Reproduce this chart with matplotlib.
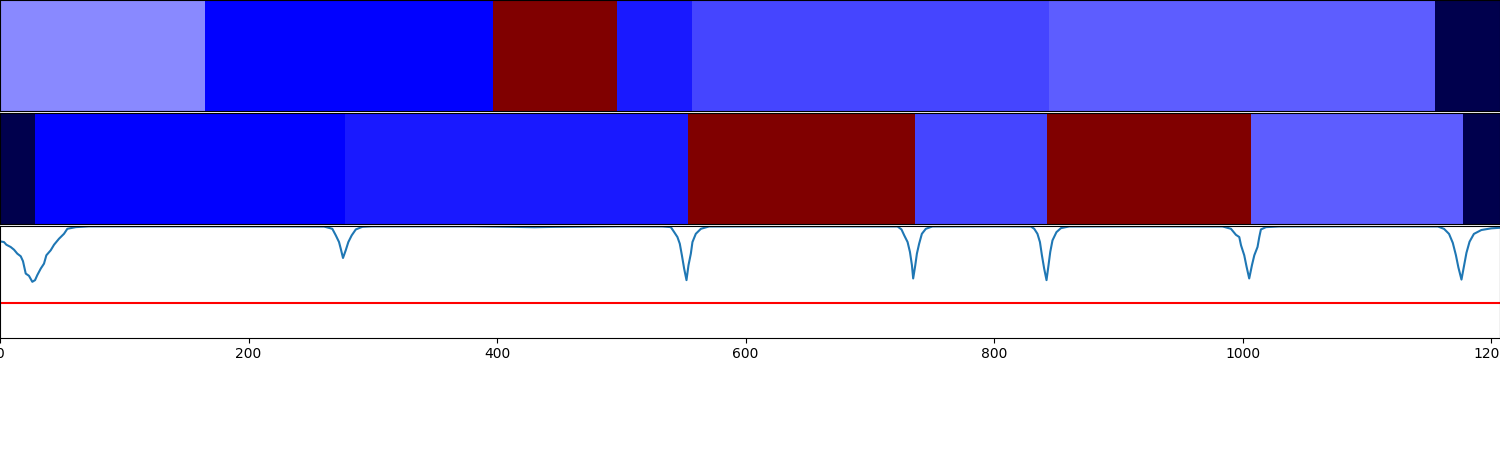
import numpy as np
import matplotlib
matplotlib.use("Agg")
import matplotlib.pyplot as plt

# segment edges (x) and colour values (seismic colormap, 0..1)
true_edges = [0, 165, 397, 496.5, 557, 844, 1155, 1207]
true_values = [0.383, 0.25, 1.0, 0.276, 0.319, 0.342, 0.0]

pred_edges = [0, 28, 278, 553.5, 736, 842.5, 1006.5, 1177.5, 1207]
pred_values = [0.0, 0.25, 0.276, 1.0, 0.319, 1.0, 0.342, 0.0]

# score profile, points
score_x = [0, 3.2, 5.1, 8.6, 11.3, 13.9, 16.7, 18.5, 20.7, 23.3, 26, 28.2, 30,
           32.8, 35.4, 37.3, 40.8, 43.5, 47.5, 51.5, 54.2, 61, 71.6,
           150, 230,
           260.8, 267.4, 270.2, 272.8, 274.2, 276, 278.2, 280.3, 283, 286.3,
           291.6, 299.4,
           380, 415, 430, 445, 500,
           533, 539.8, 542.5, 545.1, 547, 548.7, 550.5, 552.4, 554, 555.9,
           557.2, 559.9, 564, 570.6,
           650,
           722.2, 725.4, 727.6, 730.3, 732.2, 733.8, 734.8, 736.5, 737.8,
           739.6, 741.8, 745, 750.3,
           800,
           829.5, 832.2, 834.8, 836.8, 838.4, 840.2, 842.1, 843.7, 845.1,
           846.9, 850.1, 853.7, 860.4,
           920,
           983.7, 990.5, 994.5, 997.2, 998.6, 1001.2, 1003.1, 1005.2, 1007.4,
           1009.3, 1011.9, 1013.3, 1014.6, 1018.7, 1029.4,
           1100,
           1157, 1162, 1166, 1169, 1171.5, 1173.5, 1176, 1178, 1180, 1182.5,
           1186, 1192, 1200, 1207]
score_y = [0.863, 0.857, 0.833, 0.8125, 0.788, 0.753, 0.729, 0.685, 0.574,
           0.554, 0.5, 0.515, 0.56, 0.619, 0.663, 0.738, 0.783, 0.833, 0.887,
           0.931, 0.976, 0.991, 0.998,
           0.998, 0.997,
           0.996, 0.976, 0.917, 0.857, 0.797, 0.714, 0.783, 0.857, 0.917,
           0.97, 0.994, 0.998,
           0.998, 0.993, 0.99, 0.993, 0.998,
           0.997, 0.991, 0.946, 0.902, 0.842, 0.738, 0.619, 0.515, 0.649,
           0.753, 0.857, 0.931, 0.976, 0.997,
           0.998,
           0.997, 0.97, 0.917, 0.857, 0.768, 0.649, 0.53, 0.649, 0.753,
           0.842, 0.931, 0.976, 0.997,
           0.998,
           0.997, 0.976, 0.931, 0.857, 0.738, 0.619, 0.515, 0.649, 0.768,
           0.872, 0.946, 0.982, 0.997,
           0.998,
           0.997, 0.976, 0.922, 0.902, 0.828, 0.738, 0.634, 0.53, 0.649,
           0.738, 0.813, 0.902, 0.97, 0.991, 0.997,
           0.998,
           0.997, 0.975, 0.93, 0.85, 0.74, 0.63, 0.52, 0.64, 0.76, 0.86,
           0.93, 0.965, 0.98, 0.985]
threshold = 0.31

fig, axes = plt.subplots(3, 1, sharex=True, figsize=(15, 4.5), dpi=100)
plt.subplots_adjust(left=0, right=1, top=1, bottom=0.25, hspace=0.015)

for ax, edges, vals in [(axes[0], true_edges, true_values),
                        (axes[1], pred_edges, pred_values)]:
    ax.pcolormesh(edges, [0, 1], np.array(vals)[None, :], cmap="seismic",
                  vmin=0, vmax=1)
    ax.set_ylim(0, 1)
    ax.set_yticks([])
    ax.tick_params(axis="x", bottom=False)

ax = axes[2]
ax.plot(score_x, score_y)
ax.axhline(threshold, color="red")
ax.set_ylim(0, 1)
ax.set_yticks([])
ax.set_xlim(0, 1207)
ax.set_xticks([0, 200, 400, 600, 800, 1000, 1200])

fig.savefig("out.png", dpi=100)
